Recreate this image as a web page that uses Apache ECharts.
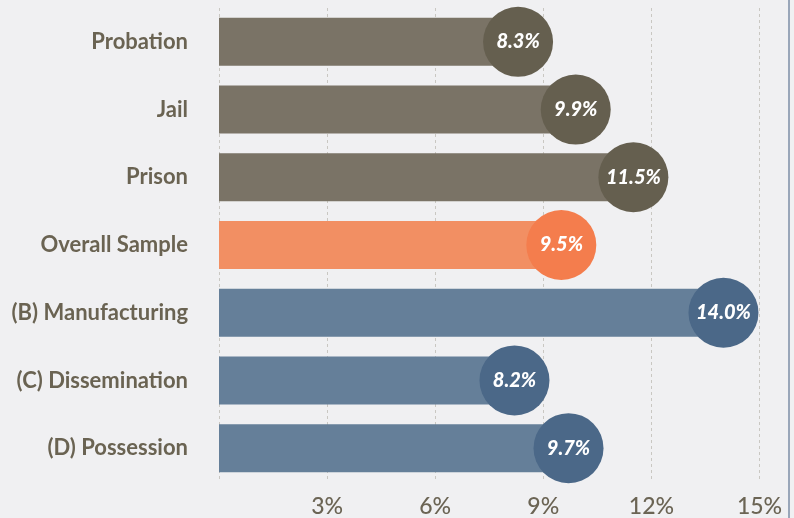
<!DOCTYPE html>
<html lang="en" style="height: 100%">
<head>
    <meta charset="utf-8">
</head>
<body style="height: 100%; margin: 0; background: #f0f0f2">
<div id="container" style="height: 100%"></div>

<script type="text/javascript" src="https://fastly.jsdelivr.net/npm/echarts@6/dist/echarts.min.js"></script>

<script type="text/javascript">
    // rows, top to bottom
    var categories = ['Probation', 'Jail', 'Prison', 'Overall Sample',
        '(B) Manufacturing', '(C) Dissemination', '(D) Possession'];
    var values = [8.3, 9.9, 11.5, 9.5, 14.0, 8.2, 9.7];
    var groups = ['sentence', 'sentence', 'sentence', 'overall', 'offense', 'offense', 'offense'];
    var xTicks = [0, 3, 6, 9, 12, 15];

    var barColors = {sentence: '#7a7366', overall: '#f28f63', offense: '#657f99'};
    var dotColors = {sentence: '#655f4f', overall: '#f47d4d', offense: '#4b6888'};

    var dom = document.getElementById('container');
    var myChart = echarts.init(dom, null, {renderer: 'canvas'});

    var barData = values.map(function (v, i) {
        return {value: v, itemStyle: {color: barColors[groups[i]]}};
    });
    var dotData = values.map(function (v, i) {
        return {value: [v, categories[i]], itemStyle: {color: dotColors[groups[i]], opacity: 1}};
    });

    var option = {
        backgroundColor: '#f0f0f2',
        animation: false,
        grid: {left: 219, right: 34.5, top: 8, bottom: 34},
        xAxis: {
            type: 'value',
            min: xTicks[0],
            max: xTicks[xTicks.length - 1],
            interval: 3,
            axisLine: {show: false},
            axisTick: {show: false},
            splitLine: {lineStyle: {color: '#c9c7c2', type: [3, 3], width: 1}},
            axisLabel: {
                margin: 13,
                color: '#6b6454',
                fontFamily: 'Lato',
                fontSize: 23,
                fontWeight: 500,
                formatter: function (v) { return v === 0 ? '' : v + '%'; }
            }
        },
        yAxis: {
            type: 'category',
            inverse: true,
            data: categories,
            axisLine: {show: false},
            axisTick: {show: false},
            axisLabel: {
                margin: 31,
                color: '#6a6352',
                fontFamily: 'Lato',
                fontSize: 22,
                fontWeight: 'bold'
            }
        },
        series: [
            {
                type: 'bar',
                data: barData,
                barWidth: 48,
                z: 2
            },
            {
                type: 'scatter',
                data: dotData,
                symbolSize: 70,
                z: 3,
                label: {
                    show: true,
                    position: 'inside',
                    color: '#ffffff',
                    fontFamily: 'Lato',
                    fontSize: 20,
                    fontWeight: 900,
                    fontStyle: 'italic',
                    formatter: function (p) { return p.value[0].toFixed(1) + '%'; }
                }
            }
        ],
        graphic: [{
            type: 'line',
            shape: {x1: 789, y1: 0, x2: 789, y2: 518},
            style: {stroke: '#7d8ea6', lineWidth: 1.5}
        }]
    };

    myChart.setOption(option);
    window.addEventListener('resize', myChart.resize);
</script>
</body>
</html>
